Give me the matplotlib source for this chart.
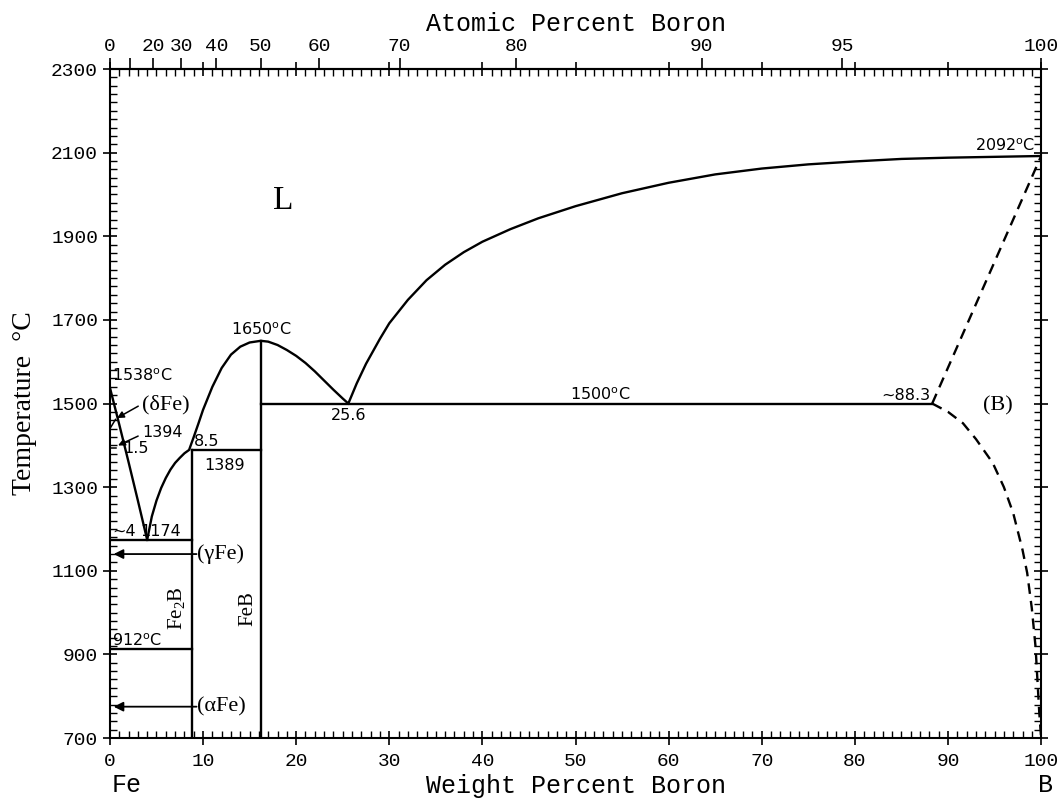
import numpy as np
import matplotlib.pyplot as plt
from matplotlib.ticker import MultipleLocator

# molar masses used to convert weight % to atomic %
M_FE = 55.845
M_B = 10.81

# liquidus, Fe side (delta / gamma Fe)
fe_liq_wt = [0, 1, 2, 3, 4]
fe_liq_t = [1538, 1450, 1360, 1268, 1174]

# liquidus of Fe2B / FeB, from the ~4 eutectic to the 25.6 eutectic
bor_liq_wt = [4, 4.5, 5, 5.5, 6, 6.5, 7, 7.5, 8, 8.5, 9, 9.5, 10, 11, 12, 13, 14, 15,
              16.2, 17, 18, 19, 20, 21, 22, 23, 24, 25, 25.6]
bor_liq_t = [1174, 1230, 1268, 1298, 1322, 1342, 1358, 1370, 1381, 1389, 1420, 1452, 1485,
             1540, 1585, 1617, 1636, 1646, 1650, 1648, 1640, 1628, 1614, 1597, 1577, 1555,
             1533, 1512, 1500]

# liquidus on the boron side
b_liq_wt = [25.6, 26.5, 27.5, 29, 30, 32, 34, 36, 38, 40, 43, 46, 50, 55, 60, 65, 70, 75,
            80, 85, 90, 95, 100]
b_liq_t = [1500, 1548, 1595, 1655, 1692, 1748, 1795, 1832, 1862, 1887, 1917, 1943, 1972,
           2003, 2028, 2048, 2062, 2072, 2079, 2085, 2088, 2090, 2092]

# dashed boundaries of (B)
b_dash_hi_wt = [88.3, 100]
b_dash_hi_t = [1500, 2092]
b_dash_lo_wt = [88.3, 90, 91.6, 93, 94.8, 96, 97, 98, 98.5, 99, 99.4, 99.8, 100]
b_dash_lo_t = [1500, 1480, 1453, 1415, 1358, 1300, 1238, 1150, 1095, 1010, 918, 760, 700]

# compounds and invariant lines
fe2b_wt = 8.83
feb_wt = 16.22
t_eut_fe = 1174
t_peri = 1389
t_eut_b = 1500
t_alpha = 912
t_min = 700
t_feb = 1650
x_eut_b2 = 88.3

t_ticks = [700, 900, 1100, 1300, 1500, 1700, 1900, 2100, 2300]
at_ticks = [0, 10, 20, 30, 40, 50, 60, 70, 80, 90, 95, 100]
at_labels = ['0', '', '20', '30', '40', '50', '60', '70', '80', '90', '95', '100']


def wt_to_at(w):
    w = np.clip(np.asarray(w, dtype=float), 0, 100)
    nb = w / M_B
    nf = (100 - w) / M_FE
    return 100 * nb / (nb + nf)


def at_to_wt(a):
    a = np.clip(np.asarray(a, dtype=float), 0, 100)
    mb = a * M_B
    mf = (100 - a) * M_FE
    return 100 * mb / (mb + mf)


mono = 'Liberation Mono'
serif = 'Liberation Serif'
sans = 'DejaVu Sans'

fig = plt.figure(figsize=(10.57, 7.99), dpi=100)
ax = fig.add_axes([0.104, 0.0763, 0.881, 0.8373])
lw = 1.7
k = 'black'

ax.plot(fe_liq_wt, fe_liq_t, color=k, lw=lw)
ax.plot(bor_liq_wt, bor_liq_t, color=k, lw=lw)
ax.plot(b_liq_wt, b_liq_t, color=k, lw=lw)
ax.plot(b_dash_hi_wt, b_dash_hi_t, color=k, lw=lw, ls=(0, (4.5, 3)))
ax.plot(b_dash_lo_wt, b_dash_lo_t, color=k, lw=lw, ls=(0, (4.5, 3)))

ax.plot([0, fe2b_wt], [t_eut_fe, t_eut_fe], color=k, lw=lw)
ax.plot([0, fe2b_wt], [t_alpha, t_alpha], color=k, lw=lw)
ax.plot([fe2b_wt, feb_wt], [t_peri, t_peri], color=k, lw=lw)
ax.plot([feb_wt, x_eut_b2], [t_eut_b, t_eut_b], color=k, lw=lw)
ax.plot([fe2b_wt, fe2b_wt], [t_min, t_peri], color=k, lw=lw)
ax.plot([feb_wt, feb_wt], [t_min, t_feb], color=k, lw=lw)

ax.set_xlim(0, 100)
ax.set_ylim(700, 2300)

# ticks
ax.xaxis.set_major_locator(MultipleLocator(10))
ax.xaxis.set_minor_locator(MultipleLocator(1))
ax.set_yticks(t_ticks)
ax.yaxis.set_minor_locator(MultipleLocator(20))
ax.tick_params(which='major', direction='inout', length=10, width=1.2,
               top=True, right=True, labeltop=False, labelsize=14)
ax.tick_params(which='minor', direction='in', length=5, width=1.0, top=True, right=True)
for lab in ax.get_xticklabels() + ax.get_yticklabels():
    lab.set_family(mono)
ax.tick_params(axis='x', pad=6)
for s in ax.spines.values():
    s.set_linewidth(1.5)

top = ax.secondary_xaxis('top', functions=(wt_to_at, at_to_wt))
top.set_xticks(at_ticks)
top.set_xticklabels(at_labels, family=mono, fontsize=14)
top.tick_params(direction='out', length=8, width=1.2, pad=2)
top.xaxis.set_minor_locator(plt.NullLocator())
top.spines['top'].set_linewidth(1.5)
top.set_xlabel('Atomic Percent Boron', family=mono, fontsize=18, labelpad=5)

ax.set_xlabel('Weight Percent Boron', family=mono, fontsize=18, labelpad=3)
ax.set_ylabel('Temperature  \u00b0C', family=serif, fontsize=20, labelpad=10)
fig.text(0.106, 0.003, 'Fe', family=mono, fontsize=18, ha='left', va='bottom')
fig.text(0.989, 0.003, 'B', family=mono, fontsize=18, ha='center', va='bottom')

# annotations
fs = 11.5
ax.text(0.25, 1547, '1538$^\\mathregular{o}$C', family=sans, fontsize=fs, ha='left', va='bottom')
ax.text(3.4, 1498, '(\u03b4Fe)', family=serif, fontsize=16, ha='left', va='center')
ax.annotate('', xy=(0.5, 1462), xytext=(3.3, 1497),
            arrowprops=dict(arrowstyle='-|>', color=k, lw=1.1, mutation_scale=10))
ax.plot([0, 0.6], [1440, 1462], color=k, lw=1.1)
ax.text(3.5, 1430, '1394', family=sans, fontsize=fs, ha='left', va='center')
ax.annotate('', xy=(0.6, 1397), xytext=(3.3, 1425),
            arrowprops=dict(arrowstyle='-|>', color=k, lw=1.1, mutation_scale=10))
ax.plot([0, 0.7], [1394, 1394], color=k, lw=1.1)
ax.text(1.4, 1393, '1.5', family=sans, fontsize=fs, ha='left', va='center')
ax.text(9.0, 1391, '8.5', family=sans, fontsize=fs, ha='left', va='bottom')
ax.text(10.1, 1352, '1389', family=sans, fontsize=fs, ha='left', va='center')
ax.text(0.25, 1176, '~4', family=sans, fontsize=fs, ha='left', va='bottom')
ax.text(3.3, 1176, '1174', family=sans, fontsize=fs, ha='left', va='bottom')
ax.text(0.25, 914, '912$^\\mathregular{o}$C', family=sans, fontsize=fs, ha='left', va='bottom')
ax.text(feb_wt, 1656, '1650$^\\mathregular{o}$C', family=sans, fontsize=fs, ha='center', va='bottom')
ax.text(25.6, 1490, '25.6', family=sans, fontsize=fs, ha='center', va='top')
ax.text(52.6, 1502, '1500$^\\mathregular{o}$C', family=sans, fontsize=fs, ha='center', va='bottom')
ax.text(88.1, 1502, '~88.3', family=sans, fontsize=fs, ha='right', va='bottom')
ax.text(99.4, 2097, '2092$^\\mathregular{o}$C', family=sans, fontsize=fs, ha='right', va='bottom')

ax.annotate('', xy=(0.1, 1140), xytext=(9.6, 1140),
            arrowprops=dict(arrowstyle='-|>', color=k, lw=1.3, mutation_scale=14))
ax.text(9.3, 1140, '(\u03b3Fe)', family=serif, fontsize=16, ha='left', va='center')
ax.annotate('', xy=(0.1, 775), xytext=(9.6, 775),
            arrowprops=dict(arrowstyle='-|>', color=k, lw=1.3, mutation_scale=14))
ax.text(9.3, 775, '(\u03b1Fe)', family=serif, fontsize=16, ha='left', va='center')

ax.text(7.2, 1010, 'Fe$_\\mathregular{2}$B', family=serif, fontsize=15, rotation=90,
        ha='center', va='center')
ax.text(14.8, 1010, 'FeB', family=serif, fontsize=15, rotation=90, ha='center', va='center')
ax.text(95.3, 1495, '(B)', family=serif, fontsize=16, ha='center', va='center')
ax.text(18.6, 1985, 'L', family=serif, fontsize=24, ha='center', va='center')

fig.savefig('out.png', dpi=100)
